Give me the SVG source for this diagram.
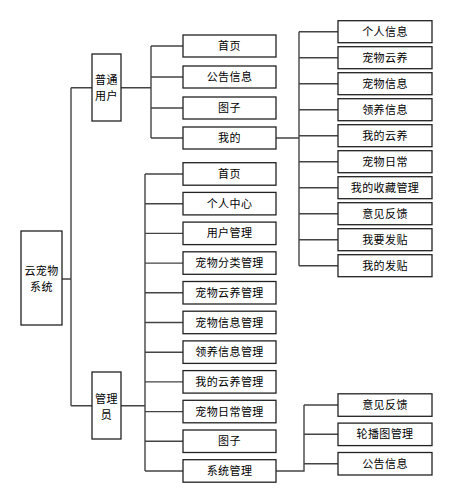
<svg xmlns="http://www.w3.org/2000/svg" width="454" height="503" viewBox="0 0 454 503">
<style>
rect.n{fill:#fff;stroke:#222;stroke-width:1.3}
text{font-family:"Noto Sans CJK SC","Noto Sans",sans-serif;font-size:11px;fill:#000;text-anchor:middle;letter-spacing:0.4px}
#connectors path{fill:none;stroke:#444;stroke-width:1.4}
</style>
<rect width="454" height="503" fill="#fff"/>
<g id="connectors">
<path d="M62 279H71M71 87.7V405.7M71 87.7H92M71 405.7H92"/>
<path d="M121 87.7H151M151 46V138M151 46H183M151 77H183M151 108H183M151 138H183"/>
<path d="M121 405.7H145M145 174V471M145 174H183M145 203.7H183M145 233.4H183M145 263.1H183M145 292.8H183M145 322.5H183M145 352.2H183M145 381.9H183M145 411.6H183M145 441.3H183M145 471H183"/>
<path d="M276 138H299M299 31.7V265.7M299 31.7H338M299 57.7H338M299 83.7H338M299 109.7H338M299 135.7H338M299 161.7H338M299 187.7H338M299 213.7H338M299 239.7H338M299 265.7H338"/>
<path d="M276 471H304V405M304 405H338M304 434.3H338M304 463.7H338"/>
</g>
<g id="root"><rect class="n" x="21" y="231" width="41" height="94"/><text x="41.5" y="275">云宠物</text><text x="41.5" y="290.5">系统</text></g>
<g id="user"><rect class="n" x="92" y="54" width="29" height="67"/><text x="106.5" y="84">普通</text><text x="106.5" y="99.5">用户</text></g>
<g id="admin"><rect class="n" x="92" y="372" width="29" height="67"/><text x="106.5" y="403">管理</text><text x="106.5" y="418.5">员</text></g>

<g id="u-home"><rect class="n" x="183" y="35" width="93" height="22"/><text x="229.5" y="50">首页</text></g>
<g id="u-notice"><rect class="n" x="183" y="66" width="93" height="22"/><text x="229.5" y="81">公告信息</text></g>
<g id="u-circle"><rect class="n" x="183" y="97" width="93" height="22"/><text x="229.5" y="112">图子</text></g>
<g id="u-mine"><rect class="n" x="183" y="127" width="93" height="22"/><text x="229.5" y="142">我的</text></g>

<g id="a-home"><rect class="n" x="183" y="162.7" width="93" height="22.5"/><text x="229.5" y="178">首页</text></g>
<g id="a-center"><rect class="n" x="183" y="192.4" width="93" height="22.5"/><text x="229.5" y="207.7">个人中心</text></g>
<g id="a-users"><rect class="n" x="183" y="222.1" width="93" height="22.5"/><text x="229.5" y="237.4">用户管理</text></g>
<g id="a-cat"><rect class="n" x="183" y="251.8" width="93" height="22.5"/><text x="229.5" y="267.1">宠物分类管理</text></g>
<g id="a-cloud"><rect class="n" x="183" y="281.5" width="93" height="22.5"/><text x="229.5" y="296.8">宠物云养管理</text></g>
<g id="a-petinfo"><rect class="n" x="183" y="311.2" width="93" height="22.5"/><text x="229.5" y="326.5">宠物信息管理</text></g>
<g id="a-adopt"><rect class="n" x="183" y="340.9" width="93" height="22.5"/><text x="229.5" y="356.2">领养信息管理</text></g>
<g id="a-mycloud"><rect class="n" x="183" y="370.6" width="93" height="22.5"/><text x="229.5" y="385.9">我的云养管理</text></g>
<g id="a-daily"><rect class="n" x="183" y="400.3" width="93" height="22.5"/><text x="229.5" y="415.6">宠物日常管理</text></g>
<g id="a-circle"><rect class="n" x="183" y="430" width="93" height="22.5"/><text x="229.5" y="445.3">图子</text></g>
<g id="a-sys"><rect class="n" x="183" y="459.7" width="93" height="22.5"/><text x="229.5" y="475">系统管理</text></g>

<g id="m-info"><rect class="n" x="338" y="20.7" width="94" height="22"/><text x="385" y="35.7">个人信息</text></g>
<g id="m-cloud"><rect class="n" x="338" y="46.7" width="94" height="22"/><text x="385" y="61.7">宠物云养</text></g>
<g id="m-pet"><rect class="n" x="338" y="72.7" width="94" height="22"/><text x="385" y="87.7">宠物信息</text></g>
<g id="m-adopt"><rect class="n" x="338" y="98.7" width="94" height="22"/><text x="385" y="113.7">领养信息</text></g>
<g id="m-mycloud"><rect class="n" x="338" y="124.7" width="94" height="22"/><text x="385" y="139.7">我的云养</text></g>
<g id="m-daily"><rect class="n" x="338" y="150.7" width="94" height="22"/><text x="385" y="165.7">宠物日常</text></g>
<g id="m-fav"><rect class="n" x="338" y="176.7" width="94" height="22"/><text x="385" y="191.7">我的收藏管理</text></g>
<g id="m-feedback"><rect class="n" x="338" y="202.7" width="94" height="22"/><text x="385" y="217.7">意见反馈</text></g>
<g id="m-post"><rect class="n" x="338" y="228.7" width="94" height="22"/><text x="385" y="243.7">我要发贴</text></g>
<g id="m-myposts"><rect class="n" x="338" y="254.7" width="94" height="22"/><text x="385" y="269.7">我的发贴</text></g>

<g id="s-feedback"><rect class="n" x="338" y="393.8" width="94" height="22.5"/><text x="385" y="409">意见反馈</text></g>
<g id="s-carousel"><rect class="n" x="338" y="423.1" width="94" height="22.5"/><text x="385" y="438.3">轮播图管理</text></g>
<g id="s-notice"><rect class="n" x="338" y="452.5" width="94" height="22.5"/><text x="385" y="467.7">公告信息</text></g>
</svg>
